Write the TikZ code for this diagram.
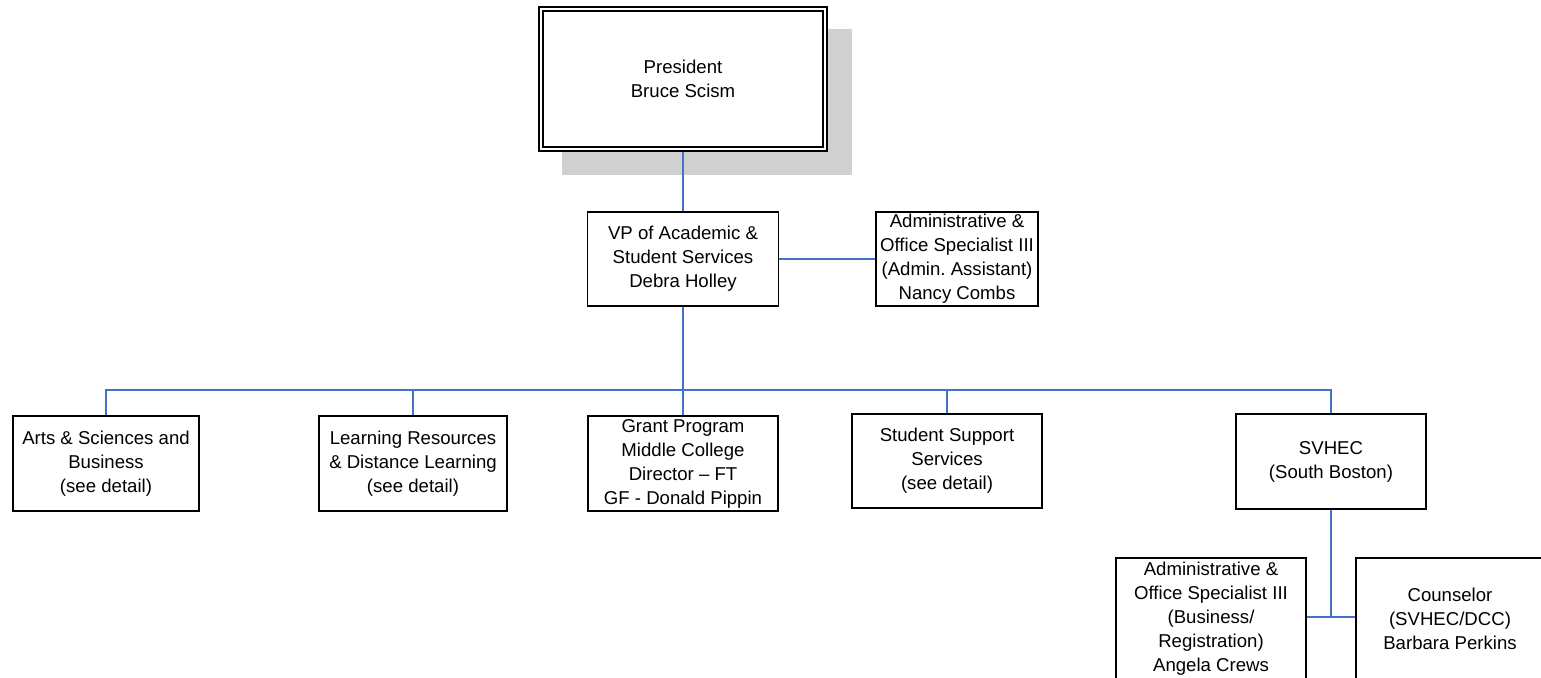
\documentclass[tikz,border=0pt]{standalone}
\usepackage{fontspec}
\setmainfont{Liberation Sans}
\usetikzlibrary{backgrounds}
\frenchspacing
\definecolor{conn}{RGB}{68,114,196}
\definecolor{shadowgray}{RGB}{208,208,208}
\tikzset{
  box/.style={draw=black, line width=1.8pt, fill=white, inner sep=1pt, align=center,
    font=\fontsize{18.6}{24}\selectfont},
  link/.style={draw=conn, line width=1.9pt},
}
\begin{document}
\begin{tikzpicture}[x=1pt,y=-1pt]
\useasboundingbox (0,0) rectangle (1541,677);
\clip (0,0) rectangle (1541,677);
% nodes
\node[box, double, double distance=2.4pt, line width=1.6pt, minimum width=284, minimum height=140] (pres) at (683,79) {President\\Bruce Scism};
\node[box, minimum width=191, minimum height=94] (vp) at (683,259) {VP of Academic \&\\Student Services\\Debra Holley};
\node[box, minimum width=162, minimum height=94] (adm) at (957,259) {Administrative \&\\Office Specialist III\\(Admin.\ Assistant)\\Nancy Combs};
\node[box, minimum width=186, minimum height=95] (arts) at (106,463.5) {Arts \& Sciences and\\Business\\(see detail)};
\node[box, minimum width=188, minimum height=95] (learn) at (413,463.5) {Learning Resources\\\& Distance Learning\\(see detail)};
\node[box, minimum width=190, minimum height=95] (grant) at (683,463.5) {Grant Program\\Middle College\\Director -- FT\\GF - Donald Pippin};
\node[box, minimum width=190, minimum height=94] (sss) at (947,461) {Student Support\\Services\\(see detail)};
\node[box, minimum width=190, minimum height=95] (svhec) at (1331,461.5) {SVHEC\\(South Boston)};
\node[box, minimum width=190, minimum height=122] (adm2) at (1211,619) {Administrative \&\\Office Specialist III\\(Business/\\Registration)\\Angela Crews};
\node[box, minimum width=188, minimum height=122] (couns) at (1450,619) {Counselor\\(SVHEC/DCC)\\Barbara Perkins};
\coordinate (bus) at (683,390);
\coordinate (j) at (1331,617);
\begin{scope}[on background layer]
  \fill[shadowgray] (562,29) rectangle (852,175);
  \draw[link] (pres.south) -- (vp.north);
  \draw[link] (vp.east) -- (adm.west);
  \draw[link] (vp.south) -- (bus);
  \draw[link] (bus) -| (arts.north);
  \draw[link] (bus) -| (learn.north);
  \draw[link] (bus) -- (grant.north);
  \draw[link] (bus) -| (sss.north);
  \draw[link] (bus) -| (svhec.north);
  \draw[link] (svhec.south) -- (j);
  \draw[link] (adm2.east |- j) -- (couns.west |- j);
\end{scope}
\end{tikzpicture}
\end{document}
